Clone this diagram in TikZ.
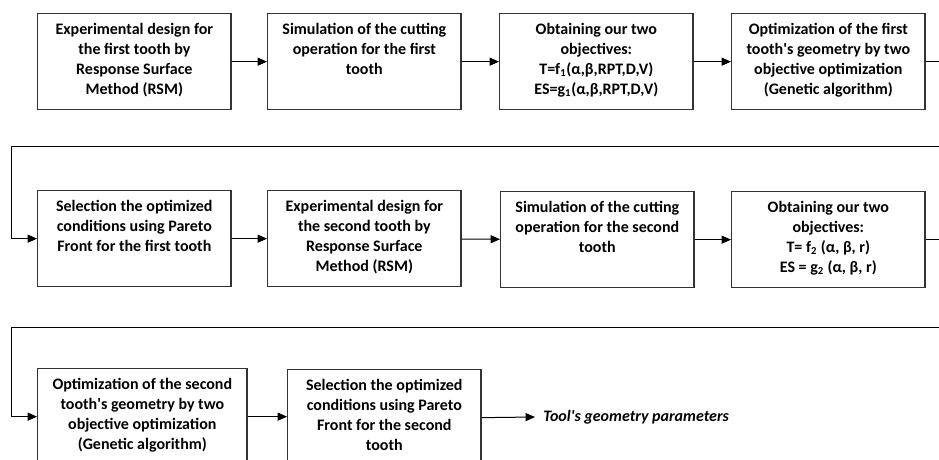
\documentclass[tikz,border=0pt]{standalone}
\usepackage{fontspec}
\setmainfont{Carlito}
\usetikzlibrary{arrows.meta}
\tikzset{
  stage/.style={draw=black!80,line width=1pt,anchor=north west,inner xsep=2pt,inner ysep=0pt,
    font=\bfseries\fontsize{12}{15}\selectfont},
  flow/.style={-{Triangle[length=7pt,width=6pt]},line width=0.75pt},
  outcome/.style={anchor=west,inner xsep=6pt,font=\bfseries\itshape\fontsize{12}{15}\selectfont}
}
\newcommand{\stagetext}[2][141pt]{\parbox[c][72pt][t]{#1}{\centering\rule{0pt}{15.5pt}#2}}

\begin{document}
\begin{tikzpicture}[x=0.75pt,y=-0.75pt]
    \useasboundingbox (0,0) rectangle (939,460);
    \clip (0,0) rectangle (939,460);

    \node[stage] (designA) at (37,13) {\stagetext{Experimental design for\\ the first tooth by\\ Response Surface\\ Method (RSM)}};
    \node[stage] (simA) at (267,13) {\stagetext{Simulation of the cutting\\ operation for the first\\ tooth}};
    \node[stage] (objA) at (499,13) {\stagetext{Obtaining our two\\ objectives:\\ T=f\textsubscript{1}(α,β,RPT,D,V)\\ ES=g\textsubscript{1}(α,β,RPT,D,V)}};
    \node[stage] (optA) at (731,13) {\stagetext{Optimization of the first\\ tooth\textquotesingle s geometry by two\\ objective optimization\\ (Genetic algorithm)}};

    \node[stage] (selA) at (37,190) {\stagetext{Selection the optimized\\ conditions using Pareto\\ Front for the first tooth}};
    \node[stage] (designB) at (267,190) {\stagetext{Experimental design for\\ the second tooth by\\ Response Surface\\ Method (RSM)}};
    \node[stage] (simB) at (500,191) {\stagetext{Simulation of the cutting\\ operation for the second\\ tooth}};
    \node[stage] (objB) at (731,191) {\stagetext{Obtaining our two\\ objectives:\\ T= f\textsubscript{2} (α, β, r)\\ ES = g\textsubscript{2} (α, β, r)}};

    \node[stage] (optB) at (37,368) {\stagetext[153pt]{Optimization of the second\\ tooth\textquotesingle s geometry by two\\ objective optimization\\ (Genetic algorithm)}};
    \node[stage] (selB) at (287,369) {\stagetext{Selection the optimized\\ conditions using Pareto\\ Front for the second\\ tooth}};
    \node[outcome] (result) at (535,417) {Tool\textquotesingle s geometry parameters};

    \coordinate (turnA) at (11,146);
    \coordinate (turnB) at (11,327);

    \draw[flow] (designA) -- (simA);
    \draw[flow] (simA) -- (objA);
    \draw[flow] (objA) -- (optA);
    \draw[flow] (optA.east) -- ++(30,0) |- (turnA) |- (selA.west);
    \draw[flow] (selA) -- (designB);
    \draw[flow] (designB) -- (simB);
    \draw[flow] (simB) -- (objB);
    \draw[flow] (objB.east) -- ++(30,0) |- (turnB) |- (optB.west);
    \draw[flow] (optB.east) -- (optB.east -| selB.west);
    \draw[flow] (selB.east) -- (result.west);
\end{tikzpicture}
\end{document}
